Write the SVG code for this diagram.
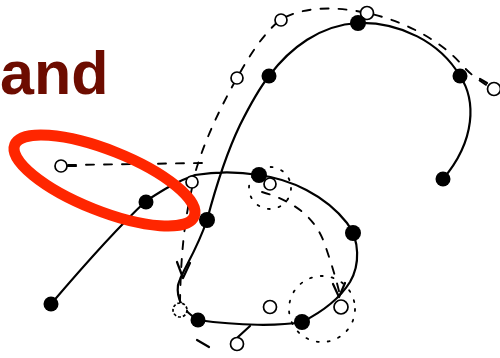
<svg xmlns="http://www.w3.org/2000/svg" width="500" height="358" viewBox="0 0 500 358">
<style>
.solid{fill:none;stroke:#000;stroke-width:2.2;stroke-linecap:round;stroke-linejoin:round}
.dash{fill:none;stroke:#000;stroke-width:1.9;stroke-dasharray:8 10;stroke-linecap:round}
.dot{fill:none;stroke:#000;stroke-width:1.8;stroke-dasharray:2 9;stroke-linecap:round}
.pt{fill:#000}
.oc{fill:#fff;stroke:#000;stroke-width:1.7}
.title{font-family:"Liberation Sans",Arial,Helvetica,sans-serif;font-weight:bold;font-size:61px;fill:#6d0c00}
</style>
<rect width="500" height="358" fill="#fff"/>
<text class="title" x="0" y="94">and</text>

<g id="connectors">
<path class="solid" d="M51,304 C80,270 115,230 146,201 C160,192 175,182 195,175 C220,171 240,172 259,175 C290,179 325,195 347,223 C360,240 360,265 350,282 C340,298 322,312 302,322 C280,326 240,326 198,320 C185,312 176,300 178,285 C182,270 195,255 207,220 C215,190 228,150 240,125 C250,105 258,90 269,76 C290,48 320,25 358,23 C400,22 440,42 460,76 C476,100 476,140 443,179"/>
<path class="dash" d="M68,165 L205,163"/>
<path class="dash" d="M196,170 C205,140 220,108 237,78 C248,58 262,35 280,20 C300,8 330,5 367,13 C410,22 445,45 462,65 C472,76 480,81 488,86"/>
<path class="dash" d="M192,188 C186,215 181,245 180,302"/>
<path class="dash" d="M262,192 C290,200 315,215 325,245 C332,265 338,285 341,300"/>
<path class="solid" d="M197,340 L209,347"/>
<path class="solid" d="M238,337 L250,326"/>
<path class="solid" d="M177,262 L183,278 M190,263 L183,278"/>
<path class="solid" d="M333,284 L339,297 M345,283 L339,297"/>
<path class="solid" d="M67,166 L76,166"/>
<path class="solid" d="M480,79 L487,83"/>
<circle class="dot" cx="270" cy="188" r="21"/>
<circle class="dot" cx="322" cy="309" r="33"/>
</g>

<g id="o1"><circle class="oc" cx="61" cy="166" r="6"/></g>
<g id="o2"><circle class="oc" cx="237" cy="78" r="6"/></g>
<g id="o3"><circle class="oc" cx="281" cy="20" r="6"/></g>
<g id="o4"><circle class="oc" cx="367" cy="13" r="6.5"/></g>
<g id="o5"><circle class="oc" cx="494" cy="89" r="6.5"/></g>
<g id="o6"><circle class="oc" cx="192" cy="182" r="6"/></g>
<g id="o7"><circle class="oc" cx="270" cy="184" r="6"/></g>
<g id="o8"><circle class="oc" cx="180" cy="310" r="7" stroke-dasharray="3 2"/></g>
<g id="o9"><circle class="oc" cx="270" cy="307" r="6.5"/></g>
<g id="o10"><circle class="oc" cx="237" cy="344" r="6.5"/></g>
<g id="o11"><circle class="oc" cx="341" cy="307" r="7"/></g>

<g id="p1"><circle class="pt" cx="51" cy="304" r="7.5"/></g>
<g id="p2"><circle class="pt" cx="146" cy="202" r="7.5"/></g>
<g id="p3"><circle class="pt" cx="207" cy="220" r="8"/></g>
<g id="p4"><circle class="pt" cx="259" cy="175" r="8"/></g>
<g id="p5"><circle class="pt" cx="269" cy="76" r="7.5"/></g>
<g id="p6"><circle class="pt" cx="358" cy="23" r="8"/></g>
<g id="p7"><circle class="pt" cx="460" cy="76" r="7.5"/></g>
<g id="p8"><circle class="pt" cx="443" cy="179" r="7.5"/></g>
<g id="p9"><circle class="pt" cx="353" cy="233" r="8"/></g>
<g id="p10"><circle class="pt" cx="302" cy="322" r="8"/></g>
<g id="p11"><circle class="pt" cx="198" cy="320" r="7.5"/></g>

<g id="highlight"><ellipse cx="104.5" cy="180.5" rx="96.6" ry="30.4" transform="rotate(21.7 104.5 180.5)" fill="none" stroke="#ff2600" stroke-width="11"/></g>
</svg>
